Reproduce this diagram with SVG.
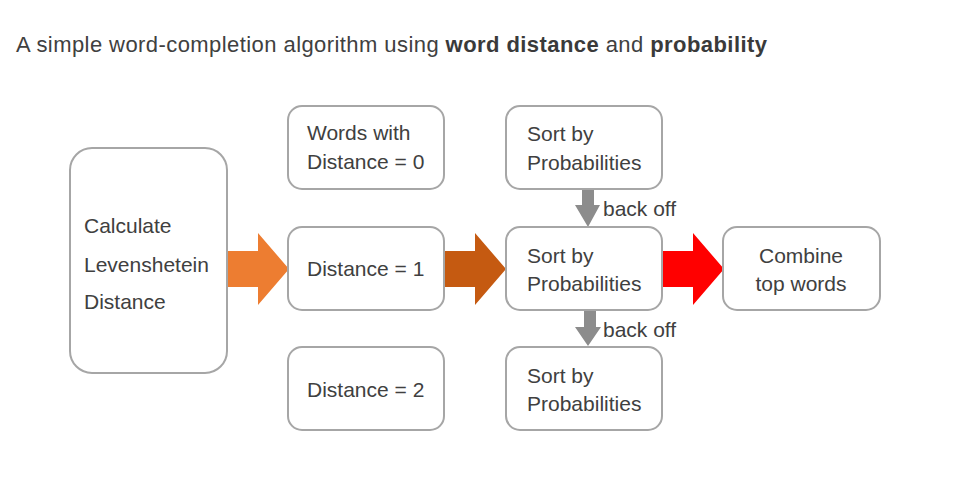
<svg xmlns="http://www.w3.org/2000/svg" width="976" height="480" viewBox="0 0 976 480">
<style>
.box{fill:#fff;stroke:#a6a6a6;stroke-width:2}
.t{font-family:"Liberation Sans",Arial,sans-serif;font-size:21px;fill:#404040}
.title{font-family:"Liberation Sans",Arial,sans-serif;font-size:22px;fill:#404040}
.b{font-weight:bold;fill:#3a3a3a}
</style>
<rect width="976" height="480" fill="#fff"/>
<text class="title" x="16" y="52" textLength="751">A simple word-completion algorithm using <tspan class="b">word distance</tspan> and <tspan class="b">probability</tspan></text>
<g id="connectors">
<polygon points="227,251 258,251 258,233 289,269 258,305 258,287 227,287" fill="#ED7D31"/>
<polygon points="444,251 475,251 475,233 506,269 475,305 475,287 444,287" fill="#C55A11"/>
<polygon points="662,251 693,251 693,233 724,269 693,305 693,287 662,287" fill="#FF0000"/>
<polygon points="582,189 594,189 594,205 600,205 588,227 575,205 582,205" fill="#8c8c8c"/>
<polygon points="584,310 596,310 596,327 601,327 588,346 575,327 584,327" fill="#8c8c8c"/>
<text class="t" x="603" y="216">back off</text>
<text class="t" x="603" y="337">back off</text>
</g>
<g id="calc">
<rect class="box" x="70" y="148" width="157" height="225" rx="22"/>
<text class="t" x="84" y="233">Calculate</text>
<text class="t" x="84" y="272">Levenshetein</text>
<text class="t" x="84" y="309">Distance</text>
</g>
<g id="d0">
<rect class="box" x="288" y="106" width="156" height="83" rx="14"/>
<text class="t" x="307" y="140">Words with</text>
<text class="t" x="307" y="169">Distance = 0</text>
</g>
<g id="d1">
<rect class="box" x="288" y="227" width="156" height="83" rx="14"/>
<text class="t" x="307" y="276">Distance = 1</text>
</g>
<g id="d2">
<rect class="box" x="288" y="347" width="156" height="83" rx="14"/>
<text class="t" x="307" y="397">Distance = 2</text>
</g>
<g id="s0">
<rect class="box" x="506" y="106" width="156" height="83" rx="14"/>
<text class="t" x="527" y="141">Sort by</text>
<text class="t" x="527" y="170">Probabilities</text>
</g>
<g id="s1">
<rect class="box" x="506" y="227" width="156" height="83" rx="14"/>
<text class="t" x="527" y="263">Sort by</text>
<text class="t" x="527" y="291">Probabilities</text>
</g>
<g id="s2">
<rect class="box" x="506" y="347" width="156" height="83" rx="14"/>
<text class="t" x="527" y="383">Sort by</text>
<text class="t" x="527" y="411">Probabilities</text>
</g>
<g id="combine">
<rect class="box" x="723" y="227" width="157" height="83" rx="14"/>
<text class="t" x="801" y="263" text-anchor="middle">Combine</text>
<text class="t" x="801" y="291" text-anchor="middle">top words</text>
</g>
</svg>
